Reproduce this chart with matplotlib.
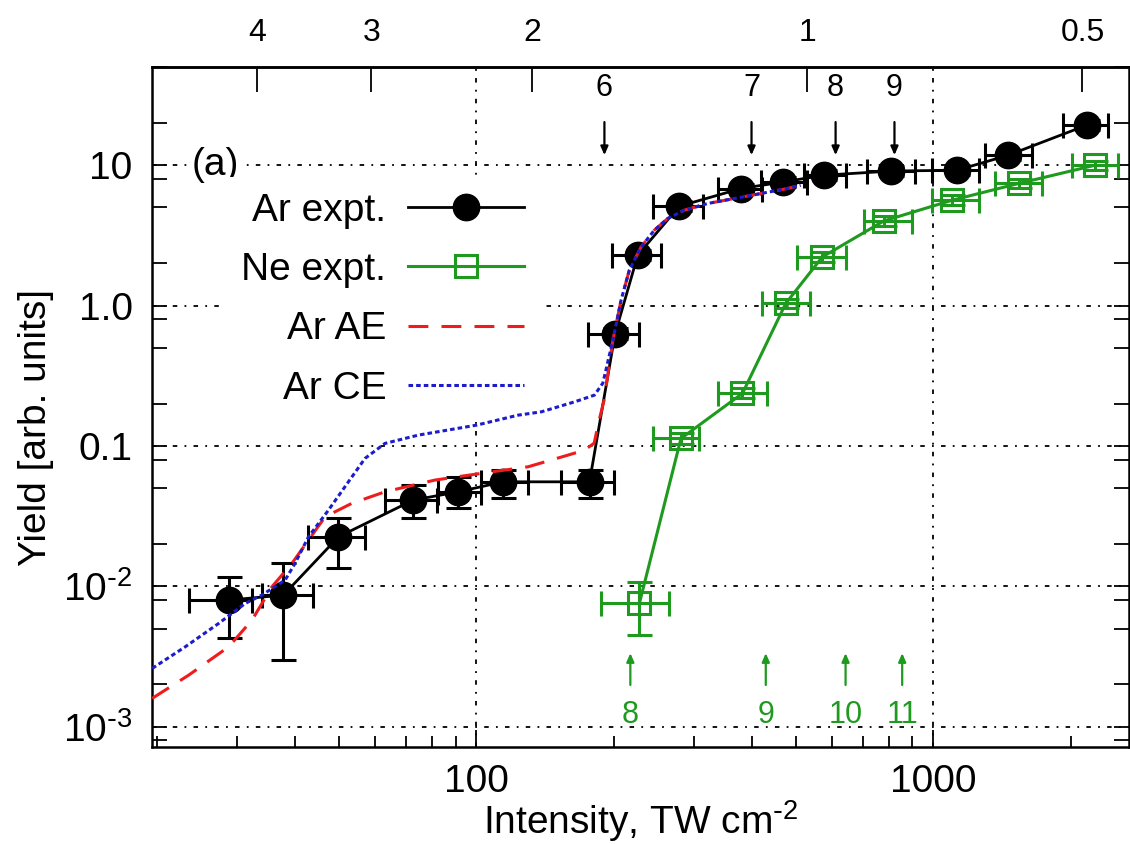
import numpy as np
import matplotlib
matplotlib.use('Agg')
import matplotlib.pyplot as plt
from matplotlib.ticker import FixedLocator, FixedFormatter, LogLocator, NullFormatter, NullLocator

plt.rcParams['font.family'] = ['Liberation Sans', 'DejaVu Sans']
plt.rcParams['mathtext.default'] = 'regular'

# ---------------- data ----------------
ar_I = [28.7, 37.8, 49.9, 72.7, 91.2, 114.4, 176.8, 201.2, 225.5, 277.9, 379.0, 469.7, 576.3, 809.6, 1127, 1460, 2166]
ar_Y = [0.00797, 0.00865, 0.0225, 0.0411, 0.0471, 0.0555, 0.0555, 0.632, 2.29, 5.10, 6.82, 7.60, 8.49, 9.09, 9.21, 11.8, 19.3]
ar_I_lo = [23.5, 33.9, 42.9, 63.0, 82.5, 102.5, 153.3, 175.4, 197.9, 243.1, 337.2, 419.1, 521.1, 716.4, 993.5, 1299, 1925]
ar_I_hi = [32.3, 44.0, 57.0, 81.8, 102.5, 129.7, 200.4, 227.3, 253.4, 313.6, 422.7, 529.9, 642.6, 913.5, 1256, 1643, 2415]
ar_Y_lo = [0.00426, 0.00298, 0.0135, 0.0306, 0.0361, 0.0425, 0.0425, 0.58, 2.10, 4.70, 6.30, 7.00, 7.80, 8.40, 8.50, 10.9, 17.8]
ar_Y_hi = [0.0117, 0.0146, 0.0306, 0.0526, 0.0603, 0.0672, 0.0672, 0.69, 2.50, 5.55, 7.40, 8.25, 9.20, 9.85, 10.0, 12.8, 20.9]

ne_I = [227.3, 280.3, 382.2, 475.2, 571.5, 779, 1099, 1536, 2258]
ne_Y = [0.00755, 0.113, 0.237, 1.035, 2.22, 4.01, 5.63, 7.41, 10.0]
ne_I_lo = [187.5, 243.1, 337.2, 422.7, 504, 704.4, 993.5, 1366, 2009]
ne_I_hi = [264.2, 307.3, 433.5, 537, 642.6, 898.4, 1256, 1727, 2539]
ne_Y_lo = [0.00449, 0.104, 0.218, 0.955, 2.05, 3.70, 5.20, 6.85, 9.25]
ne_Y_hi = [0.0108, 0.123, 0.257, 1.12, 2.40, 4.35, 6.10, 8.00, 10.8]

ae_I = [19.52, 23.47, 28.71, 32.27, 35.68, 39.46, 42.91, 46.65, 53.35, 63.07, 81.1, 104.3, 129.7,
        158.6, 172.4, 181.0, 185.6, 190.3, 198.9, 207.3, 216.1, 229.3, 245.1, 262.2, 285.0, 320.6,
        366.4, 419.1, 479.3, 512.4]
ae_Y = [0.00159, 0.00233, 0.00371, 0.00574, 0.00991, 0.01455, 0.02133, 0.03126, 0.03896, 0.0471,
        0.0571, 0.0643, 0.071, 0.086, 0.0933, 0.1047, 0.1527, 0.2119, 0.567, 1.093, 1.787, 2.619,
        3.444, 4.173, 4.78, 5.336, 5.79, 6.286, 6.823, 7.203]

ce_I = [19.52, 23.07, 27.29, 31.2, 33.93, 38.14, 40.12, 42.91, 47.45, 52.47, 57.04, 63.07, 74.6,
        100.0, 123.3, 138.7, 163.9, 181.2, 189.1, 198.9, 207.3, 216.1, 229.3, 245.1, 262.2, 285.0,
        320.6, 366.4, 419.1, 479.3, 512.4]
ce_Y = [0.0026, 0.00371, 0.00544, 0.00755, 0.00866, 0.01107, 0.01462, 0.02254, 0.0349, 0.0555,
        0.0815, 0.1042, 0.1194, 0.1406, 0.1656, 0.175, 0.206, 0.230, 0.28, 0.567, 1.093, 1.787,
        2.619, 3.444, 4.173, 4.78, 5.336, 5.79, 6.286, 6.823, 7.203]

ar_arrow_I = [190.6, 400.0, 611.0, 822.0]
ar_arrow_labels = ['6', '7', '8', '9']
ne_arrow_I = [217.2, 429.8, 642.5, 854.6]
ne_arrow_labels = ['8', '9', '10', '11']

y_ticks = [1e-3, 1e-2, 1e-1, 1, 10]
y_ticklabels = [r'$10^{\text{-}3}$', r'$10^{\text{-}2}$', '0.1', '1.0', '10']
x_ticks = [100, 1000]
x_ticklabels = ['100', '1000']
gamma_ticks = [4, 3, 2, 1, 0.5]
gamma_ticklabels = ['4', '3', '2', '1', '0.5']
I_GAMMA1 = 530.0  # intensity where top-axis value equals 1

GREEN = '#1e9a1e'
RED = '#ee1c1c'
BLUE = '#1c1ccc'

# ---------------- figure ----------------
fig = plt.figure(figsize=(11.3, 8.44), dpi=100)
ax = fig.add_axes([152 / 1130, 97 / 844, 977 / 1130, 680 / 844])
ax.set_xscale('log')
ax.set_yscale('log')
ax.set_xlim(19.5, 2680)
ax.set_ylim(7.16e-4, 50.1)
ax.set_axisbelow(True)

def asym(v, lo, hi):
    v = np.asarray(v); return [v - np.asarray(lo), np.asarray(hi) - v]

ax.errorbar(ar_I, ar_Y, xerr=asym(ar_I, ar_I_lo, ar_I_hi), yerr=asym(ar_Y, ar_Y_lo, ar_Y_hi),
            fmt='none', ecolor='k', elinewidth=2.2, capsize=9, capthick=2.2, zorder=3)
ax.plot(ar_I, ar_Y, '-o', color='k', ms=19, lw=2, label='Ar expt.', zorder=4)

ax.errorbar(ne_I, ne_Y, xerr=asym(ne_I, ne_I_lo, ne_I_hi), yerr=asym(ne_Y, ne_Y_lo, ne_Y_hi),
            fmt='none', ecolor=GREEN, elinewidth=2.2, capsize=9, capthick=2.2, zorder=3)
ax.plot(ne_I, ne_Y, '-s', color=GREEN, mfc='none', mew=2.2, ms=16, lw=2.2, label='Ne expt.', zorder=4)

ax.plot(ae_I, ae_Y, color=RED, lw=2.2, ls=(0, (6.5, 4.3)), label='Ar AE', zorder=6)
ax.plot(ce_I, ce_Y, color=BLUE, lw=2.2, ls=(0, (1.5, 1.0)), label='Ar CE', zorder=7)

# annotations
for xi, lab in zip(ar_arrow_I, ar_arrow_labels):
    ax.annotate('', xy=(xi, 11.8), xytext=(xi, 20.3),
                arrowprops=dict(arrowstyle='-|>,head_length=0.5,head_width=0.22', color='k',
                                lw=1.6, shrinkA=0, shrinkB=0))
    ax.text(xi, 35.3, lab, ha='center', va='center', fontsize=22)
for xi, lab in zip(ne_arrow_I, ne_arrow_labels):
    ax.annotate('', xy=(xi, 0.00334), xytext=(xi, 0.00198),
                arrowprops=dict(arrowstyle='-|>,head_length=0.5,head_width=0.22', color=GREEN,
                                lw=1.6, shrinkA=0, shrinkB=0))
    ax.text(xi, 0.00121, lab, ha='center', va='center', fontsize=22, color=GREEN)

ax.text(0.041, 0.856, '(a)', transform=ax.transAxes, fontsize=28, ha='left', va='center',
        bbox=dict(facecolor='white', edgecolor='none', pad=1), zorder=5)

# axes / ticks
ax.xaxis.set_major_locator(FixedLocator(x_ticks))
ax.xaxis.set_major_formatter(FixedFormatter(x_ticklabels))
ax.xaxis.set_minor_locator(LogLocator(base=10, subs=np.arange(2, 10), numticks=20))
ax.xaxis.set_minor_formatter(NullFormatter())
ax.yaxis.set_major_locator(FixedLocator(y_ticks))
ax.yaxis.set_major_formatter(FixedFormatter(y_ticklabels))
ax.yaxis.set_minor_locator(LogLocator(base=10, subs=(2, 5, 8), numticks=20))
ax.yaxis.set_minor_formatter(NullFormatter())

ax.grid(True, which='major', color='k', lw=1.3, ls=(0, (2.5, 4, 1, 4)))
ax.grid(False, which='minor')

ax.tick_params(axis='both', which='both', direction='in', top=False, right=True, width=1.3,
               labelsize=28, color='k')
ax.tick_params(axis='x', which='major', length=12, pad=12)
ax.tick_params(axis='x', which='minor', length=8)
ax.tick_params(axis='y', which='both', length=10.5)
ax.tick_params(axis='y', which='major', pad=14)
for s in ax.spines.values():
    s.set_linewidth(1.8)

ax.set_xlabel(r'Intensity, TW cm$^{\text{-}2}$', fontsize=28, labelpad=-1)
ax.set_ylabel('Yield [arb. units]', fontsize=28)
ax.yaxis.set_label_coords(-0.10, 0.47)

# top axis
def fwd(I):
    I = np.clip(np.asarray(I, dtype=float), 1e-12, None)
    return np.sqrt(I_GAMMA1 / I)

def inv(g):
    g = np.clip(np.asarray(g, dtype=float), 1e-12, None)
    return I_GAMMA1 / g ** 2

secax = ax.secondary_xaxis('top', functions=(fwd, inv))
secax.set_xticks(gamma_ticks)
secax.set_xticklabels(gamma_ticklabels)
secax.xaxis.set_minor_locator(NullLocator())
secax.tick_params(axis='x', which='major', direction='in', length=18, width=1.3, labelsize=23, pad=14)
secax.spines['top'].set_linewidth(1.8)

# legend
leg = ax.legend(loc='upper right', bbox_to_anchor=(0.397, 0.838), markerfirst=False, numpoints=1,
                frameon=True, fancybox=False, framealpha=1, edgecolor='none', facecolor='white',
                fontsize=28, handlelength=3.0, handletextpad=0.55, labelspacing=0.6,
                borderpad=0.4, borderaxespad=0)
leg.set_zorder(5.5)
for col in leg._legend_handle_box.get_children():
    col.align = 'right'

fig.savefig('out.png', dpi=100)
